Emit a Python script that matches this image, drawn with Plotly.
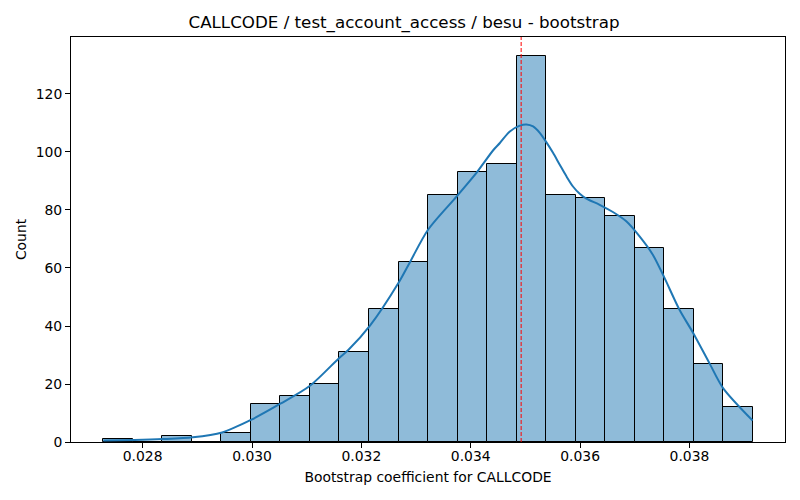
import numpy as np
import plotly.graph_objects as go

# histogram counts (22 equal-width bins)
counts = [1, 0, 2, 0, 3, 13, 16, 20, 31, 46, 62, 85, 93, 96, 133, 85, 84, 78, 67, 46, 27, 12]
bin_lo = 0.027283
bin_hi = 0.039154

# kde curve (in count units)
kde_x = [0.027283, 0.027849, 0.028374, 0.028918, 0.029454, 0.029989, 0.030518, 0.031060,
         0.031595, 0.031765, 0.032161, 0.032677, 0.032891, 0.033219, 0.033748, 0.034108,
         0.034411, 0.034533, 0.034715, 0.034898, 0.035020, 0.035141, 0.035263, 0.035385,
         0.035505, 0.035628, 0.035750, 0.035870, 0.035993, 0.036115, 0.036358, 0.036600,
         0.036845, 0.037088, 0.037330, 0.037531, 0.037818, 0.038068, 0.038365, 0.038615,
         0.039155]
kde_y = [0.55, 0.7, 1.0, 1.6, 3.3, 7.7, 13.2, 19.4,
         29.0, 31.8, 40.2, 54.8, 62.1, 73.2, 84.8, 92.9,
         100.6, 103.1, 107.1, 109.1, 109.5, 108.8, 106.6, 103.3,
         99.7, 95.6, 91.6, 88.1, 85.6, 83.9, 81.8, 79.3,
         76.1, 70.9, 64.6, 57.1, 45.6, 37.6, 27.2, 18.6,
         7.4]

mean_value = 0.034922

x_ticks = [0.028, 0.030, 0.032, 0.034, 0.036, 0.038]
y_ticks = [0, 20, 40, 60, 80, 100, 120]

edges = np.linspace(bin_lo, bin_hi, len(counts) + 1)
centers = (edges[:-1] + edges[1:]) / 2
width = edges[1] - edges[0]

pad_x = (bin_hi - bin_lo) * 0.05
ymax = max(counts) * 1.05

fig = go.Figure()
fig.add_trace(go.Bar(
    x=centers, y=counts, width=width,
    marker=dict(color='rgba(31,119,180,0.5)', line=dict(color='black', width=1)),
    showlegend=False,
))
fig.add_trace(go.Scatter(
    x=kde_x, y=kde_y, mode='lines',
    line=dict(color='#1f77b4', width=2, shape='spline', smoothing=0.8),
    showlegend=False,
))
fig.add_trace(go.Scatter(
    x=[mean_value, mean_value], y=[0, ymax], mode='lines',
    line=dict(color='red', width=1, dash='4px,2px'),
    showlegend=False,
))

# the page body adds an 8px offset, so the figure is a bit smaller than the window
font = dict(family='DejaVu Sans', color='black')
fig.update_layout(
    width=792, height=492,
    margin=dict(l=63, r=15, t=29, b=58),
    plot_bgcolor='white', paper_bgcolor='white',
    font=dict(size=13.9, **font),
    title=dict(text='CALLCODE / test_account_access / besu - bootstrap',
               x=0.5, xanchor='center', y=1 - 14 / 492, yanchor='middle',
               font=dict(size=16.7, **font)),
    bargap=0,
)
fig.update_xaxes(
    range=[bin_lo - pad_x, bin_hi + pad_x],
    tickvals=x_ticks, ticktext=[f'{v:.3f}' for v in x_ticks],
    ticks='outside', ticklen=5, tickcolor='black', ticklabelstandoff=-4,
    tickfont=dict(size=13.9, **font),
    showline=True, linecolor='black', linewidth=1, mirror=True,
    showgrid=False, zeroline=False, automargin=False,
    title=dict(text='Bootstrap coefficient for CALLCODE', standoff=9,
               font=dict(size=13.9, **font)),
)
fig.update_yaxes(
    range=[0, ymax],
    tickvals=y_ticks,
    ticks='outside', ticklen=5, tickcolor='black',
    tickfont=dict(size=13.9, **font),
    showline=True, linecolor='black', linewidth=1, mirror=True,
    showgrid=False, zeroline=False, automargin=False,
    title=dict(text='Count', standoff=5, font=dict(size=13.9, **font)),
)

fig.write_html("out.html")
